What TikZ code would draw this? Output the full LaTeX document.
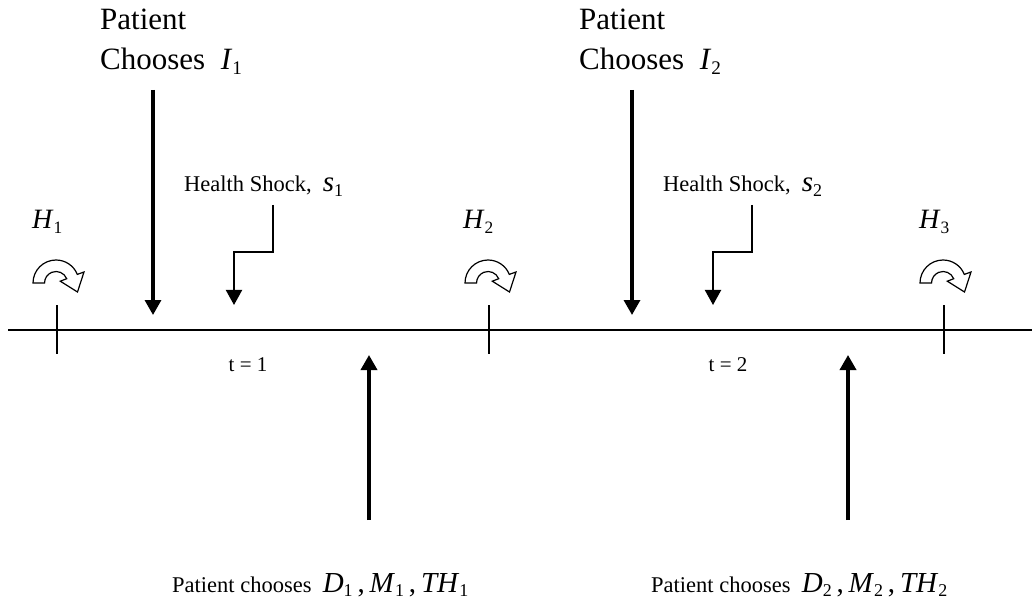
\documentclass[tikz,border=0pt]{standalone}
\usepackage{fontspec}
\setmainfont{Liberation Serif}
\usetikzlibrary{arrows.meta}
\newcommand\mysub[1]{\raisebox{-0.35ex}{\fontsize{0.62em}{1em}\selectfont #1}}
\newcommand\mymath[1]{{\fontsize{29}{30}\selectfont #1}}
\tikzset{
  bigtxt/.style={font=\fontsize{31}{40}\selectfont, inner sep=0pt, align=left},
  htxt/.style={font=\fontsize{28}{34}\selectfont, inner sep=0pt},
  midtxt/.style={font=\fontsize{22.5}{26}\selectfont, inner sep=0pt},
  smalltxt/.style={font=\fontsize{21}{24}\selectfont, inner sep=0pt},
  downarr/.style={line width=3.3pt, -{Triangle[width=16pt,length=15pt]}},
  bentarr/.style={line width=2pt, -{Triangle[width=16pt,length=15pt]}},
  uparr/.style={line width=3.5pt, -{Triangle[width=16pt,length=15pt]}},
  axis/.style={line width=1.6pt},
  tick/.style={line width=1.6pt},
  curv/.style={line width=1.2pt, fill=white, line join=miter}
}
\begin{document}
\begin{tikzpicture}[x=1pt,y=-1pt]
\useasboundingbox (0,0) rectangle (1032,601);
% axis
\coordinate (L) at (8,330);
\coordinate (R) at (1032,330);
\draw[axis] (L) -- (R);
% ticks
\foreach \n/\x in {1/57,2/489,3/944}{
  \coordinate (ta\n) at (\x,305);
  \coordinate (tb\n) at (\x,354);
  \draw[tick] (ta\n) -- (tb\n);
}
% H labels
\node[htxt, anchor=base west] (h1) at (32,229) {\textit{H}\mysub{1}};
\node[htxt, anchor=base west] (h2) at (463,229) {\textit{H}\mysub{2}};
\node[htxt, anchor=base west] (h3) at (919,229) {\textit{H}\mysub{3}};
% curved arrows
\foreach \cx in {56,488,943}{
\begin{scope}[shift={(\cx,283)}, yscale=-1]
  \draw[curv] (-23,0) arc[start angle=180, end angle=22, radius=23]
    -- (28,11) -- (21.5,-9) -- (4.3,1.8)
    -- (10.7,4.3) arc[start angle=22, end angle=180, radius=11.5] -- cycle;
\end{scope}
}
% top texts
\node[bigtxt, anchor=north west] (p1) at (100,9) {Patient\\Chooses~~\textit{I}\mysub{1}};
\node[bigtxt, anchor=north west] (p2) at (579,9) {Patient\\Chooses~~\textit{I}\mysub{2}};
\coordinate (d1s) at (153,90); \coordinate (d1e) at (153,315);
\coordinate (d2s) at (632,90); \coordinate (d2e) at (632,315);
\draw[downarr] (d1s) -- (d1e);
\draw[downarr] (d2s) -- (d2e);
% health shocks
\node[midtxt, anchor=base west] (hs1) at (184,192) {Health Shock,~~\mymath{\textit{s}\mysub{1}}};
\node[midtxt, anchor=base west] (hs2) at (663,192) {Health Shock,~~\mymath{\textit{s}\mysub{2}}};
\coordinate (b1s) at (273,205); \coordinate (b1e) at (234,305);
\coordinate (b2s) at (752,205); \coordinate (b2e) at (713,305);
\draw[bentarr] (b1s) -- ++(0,47) -| (b1e);
\draw[bentarr] (b2s) -- ++(0,47) -| (b2e);
% t labels
\node[smalltxt] (t1) at (248,365) {t = 1};
\node[smalltxt] (t2) at (728,365) {t = 2};
% up arrows
\coordinate (u1s) at (369,520); \coordinate (u1e) at (369,355);
\coordinate (u2s) at (848,520); \coordinate (u2e) at (848,355);
\draw[uparr] (u1s) -- (u1e);
\draw[uparr] (u2s) -- (u2e);
% bottom texts
\node[midtxt, anchor=base west] (c1) at (172,592) {Patient chooses~~\mymath{\textit{D}\mysub{1}\,,\,\textit{M}\mysub{1}\,,\,\textit{TH}\mysub{1}}};
\node[midtxt, anchor=base west] (c2) at (651,592) {Patient chooses~~\mymath{\textit{D}\mysub{2}\,,\,\textit{M}\mysub{2}\,,\,\textit{TH}\mysub{2}}};
\end{tikzpicture}
\end{document}
